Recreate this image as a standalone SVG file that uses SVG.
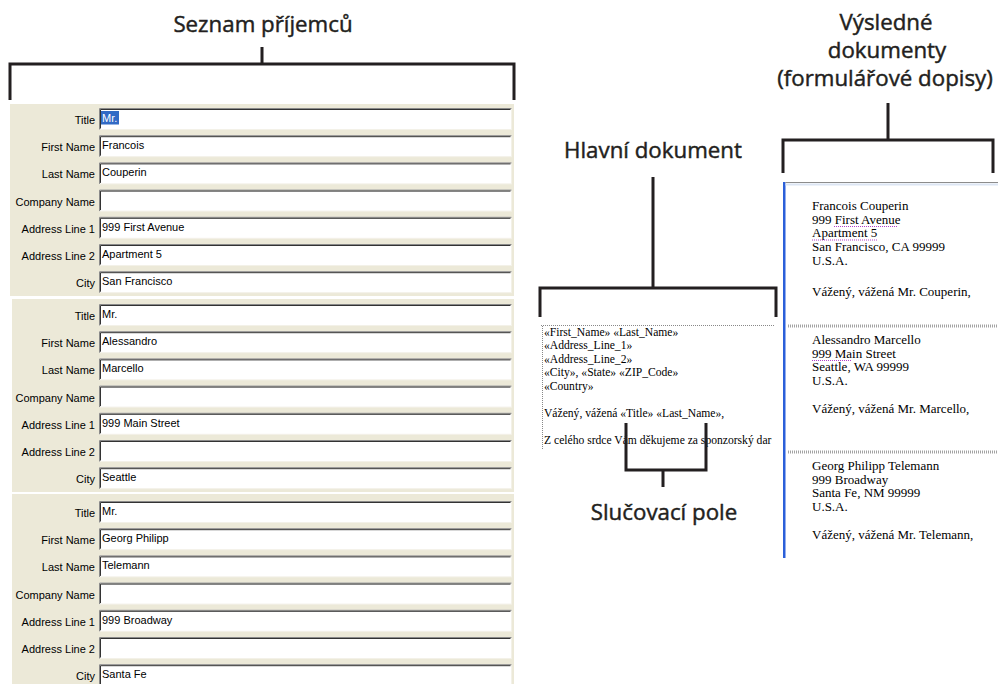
<svg xmlns="http://www.w3.org/2000/svg" xmlns:xlink="http://www.w3.org/1999/xlink" width="998" height="684" viewBox="0 0 998 684">
<style>
.br{stroke:#231f20;stroke-width:3;fill:none;stroke-linecap:butt}
.ttl{font-family:"Open Sans","Noto Sans","DejaVu Sans",sans-serif;font-weight:400;font-size:22.3px;fill:#231f20;stroke:#231f20;stroke-width:0.45;text-anchor:middle}
.panel{fill:#ECE9D8}
.lbl{font-family:"Liberation Sans",Arial,sans-serif;font-size:11px;fill:#000;text-anchor:end}
.val{font-family:"Liberation Sans",Arial,sans-serif;font-size:11px;fill:#000}
.doc{font-family:"Liberation Serif","Times New Roman",serif;font-size:11.6px;fill:#000}
.res{font-family:"Liberation Serif","Times New Roman",serif;font-size:13px;fill:#000}
.dot{stroke:#888;stroke-width:1;stroke-dasharray:1 1;fill:none}
.sep{stroke:#a3a3a3;stroke-width:3;stroke-dasharray:1 1;fill:none}
.spell{stroke:#b040c8;stroke-width:1;stroke-dasharray:1 1;fill:none}
</style>
<defs>
<g id="fld">
<rect x="0.5" y="0.5" width="412" height="21" fill="#fff" stroke="#f3f1e8"/>
<path d="M0.5 21.5V0.5H412.5" stroke="#8a8a8a" fill="none"/>
<path d="M1.5 20.5V1.5H411.5" stroke="#333" fill="none"/>
</g>
</defs>
<rect width="998" height="684" fill="#fff"/>

<g id="title-recipients"><text class="ttl" x="263" y="32">Seznam příjemců</text></g>
<g id="title-main"><text class="ttl" x="653" y="158">Hlavní dokument</text></g>
<g id="title-merge"><text class="ttl" x="664" y="520">Slučovací pole</text></g>
<g id="title-results">
<text class="ttl" x="886" y="30">Výsledné</text>
<text class="ttl" x="887" y="58">dokumenty</text>
<text class="ttl" x="885" y="86">(formulářové dopisy)</text>
</g>

<g id="record-1" transform="translate(0,108)">
<rect class="panel" x="10" y="-4" width="504" height="192"/>
<use xlink:href="#fld" x="99" y="0"/>
<use xlink:href="#fld" x="99" y="27.2"/>
<use xlink:href="#fld" x="99" y="54.4"/>
<use xlink:href="#fld" x="99" y="81.6"/>
<use xlink:href="#fld" x="99" y="108.8"/>
<use xlink:href="#fld" x="99" y="136"/>
<use xlink:href="#fld" x="99" y="163.2"/>
<text class="lbl" x="95" y="16">Title</text>
<text class="lbl" x="95" y="43.2">First Name</text>
<text class="lbl" x="95" y="70.4">Last Name</text>
<text class="lbl" x="95" y="97.6">Company Name</text>
<text class="lbl" x="95" y="124.8">Address Line 1</text>
<text class="lbl" x="95" y="152">Address Line 2</text>
<text class="lbl" x="95" y="179.2">City</text>
<rect x="101" y="3" width="18" height="13.5" fill="#316AC5"/>
<text class="val" x="102" y="14" style="fill:#fff">Mr.</text>
<text class="val" x="102" y="41.2">Francois</text>
<text class="val" x="102" y="68.4">Couperin</text>
<text class="val" x="102" y="122.8">999 First Avenue</text>
<text class="val" x="102" y="150">Apartment 5</text>
<text class="val" x="102" y="177.2">San Francisco</text>
</g>

<g id="record-2" transform="translate(0,304)">
<rect class="panel" x="12" y="-5" width="502" height="193"/>
<use xlink:href="#fld" x="99" y="0"/>
<use xlink:href="#fld" x="99" y="27.2"/>
<use xlink:href="#fld" x="99" y="54.4"/>
<use xlink:href="#fld" x="99" y="81.6"/>
<use xlink:href="#fld" x="99" y="108.8"/>
<use xlink:href="#fld" x="99" y="136"/>
<use xlink:href="#fld" x="99" y="163.2"/>
<text class="lbl" x="95" y="16">Title</text>
<text class="lbl" x="95" y="43.2">First Name</text>
<text class="lbl" x="95" y="70.4">Last Name</text>
<text class="lbl" x="95" y="97.6">Company Name</text>
<text class="lbl" x="95" y="124.8">Address Line 1</text>
<text class="lbl" x="95" y="152">Address Line 2</text>
<text class="lbl" x="95" y="179.2">City</text>
<text class="val" x="102" y="14">Mr.</text>
<text class="val" x="102" y="41.2">Alessandro</text>
<text class="val" x="102" y="68.4">Marcello</text>
<text class="val" x="102" y="122.8">999 Main Street</text>
<text class="val" x="102" y="177.2">Seattle</text>
</g>

<g id="record-3" transform="translate(0,501)">
<rect class="panel" x="12" y="-7" width="502" height="190"/>
<use xlink:href="#fld" x="99" y="0"/>
<use xlink:href="#fld" x="99" y="27.2"/>
<use xlink:href="#fld" x="99" y="54.4"/>
<use xlink:href="#fld" x="99" y="81.6"/>
<use xlink:href="#fld" x="99" y="108.8"/>
<use xlink:href="#fld" x="99" y="136"/>
<use xlink:href="#fld" x="99" y="163.2"/>
<text class="lbl" x="95" y="16">Title</text>
<text class="lbl" x="95" y="43.2">First Name</text>
<text class="lbl" x="95" y="70.4">Last Name</text>
<text class="lbl" x="95" y="97.6">Company Name</text>
<text class="lbl" x="95" y="124.8">Address Line 1</text>
<text class="lbl" x="95" y="152">Address Line 2</text>
<text class="lbl" x="95" y="179.2">City</text>
<text class="val" x="102" y="14">Mr.</text>
<text class="val" x="102" y="41.2">Georg Philipp</text>
<text class="val" x="102" y="68.4">Telemann</text>
<text class="val" x="102" y="122.8">999 Broadway</text>
<text class="val" x="102" y="177.2">Santa Fe</text>
</g>

<g id="main-document">
<path class="dot" d="M541 325.5H775"/>
<path class="dot" d="M542.5 326V450" stroke-dasharray="1 2"/>
<text class="doc" x="544" y="335.5">«First_Name» «Last_Name»</text>
<text class="doc" x="544" y="349">«Address_Line_1»</text>
<text class="doc" x="544" y="362.5">«Address_Line_2»</text>
<text class="doc" x="544" y="376">«City», «State» «ZIP_Code»</text>
<text class="doc" x="544" y="389.5">«Country»</text>
<text class="doc" x="544" y="416.5">Vážený, vážená «Title» «Last_Name»,</text>
<text class="doc" x="544" y="443.5">Z celého srdce Vám děkujeme za sponzorský dar</text>
</g>

<g id="result-documents">
<rect x="783" y="182" width="2.5" height="376" fill="#2b5fd9"/>
<path d="M785.5 182.5H998" stroke="#8c8c8c" stroke-width="1"/>
<path d="M785.5 184.5H998" stroke="#dce5f3" stroke-width="2"/>
<path class="sep" d="M788 326H998"/>
<path class="sep" d="M788 452H998"/>
<text class="res" x="812" y="210">Francois Couperin</text>
<text class="res" x="812" y="223.7">999 First Avenue</text>
<text class="res" x="812" y="237.4">Apartment 5</text>
<text class="res" x="812" y="251.1">San Francisco, CA 99999</text>
<text class="res" x="812" y="264.8">U.S.A.</text>
<text class="res" x="812" y="296">Vážený, vážená Mr. Couperin,</text>
<path class="spell" d="M834 226.5H898M812 240H878"/>
<text class="res" x="812" y="344">Alessandro Marcello</text>
<text class="res" x="812" y="357.7">999 Main Street</text>
<text class="res" x="812" y="371.4">Seattle, WA 99999</text>
<text class="res" x="812" y="385.1">U.S.A.</text>
<text class="res" x="812" y="412.5">Vážený, vážená Mr. Marcello,</text>
<path class="spell" d="M812 360.5H852"/>
<text class="res" x="812" y="470">Georg Philipp Telemann</text>
<text class="res" x="812" y="483.7">999 Broadway</text>
<text class="res" x="812" y="497.4">Santa Fe, NM 99999</text>
<text class="res" x="812" y="511.1">U.S.A.</text>
<text class="res" x="812" y="538.5">Vážený, vážená Mr. Telemann,</text>
</g>

<g id="connectors">
<path class="br" d="M262 47V64M10 100V64H514V100"/>
<path class="br" d="M653 177V288M540 317V288H776V317"/>
<path class="br" d="M626 423V470H706V423M663 470V487"/>
<path class="br" d="M888 103V140M783 173V140H993V173"/>
</g>
</svg>
